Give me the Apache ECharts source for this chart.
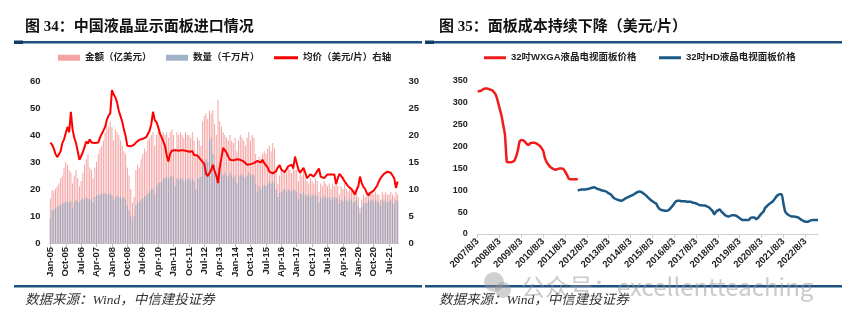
<!DOCTYPE html>
<html>
<head>
<meta charset="utf-8">
<script src="https://cdn.jsdelivr.net/npm/echarts@6/dist/echarts.min.js"></script>
<style>
html,body{margin:0;padding:0;background:#fff;}
#c{width:844px;height:323px;}
</style>
</head>
<body>
<div id="c"></div>
<script>
// ---------- Left chart: 中国液晶显示面板进口情况 (monthly Jan-05 .. Dec-21) ----------
const monthNames = ['Jan','Feb','Mar','Apr','May','Jun','Jul','Aug','Sep','Oct','Nov','Dec'];
const leftYears = [2005,2006,2007,2008,2009,2010,2011,2012,2013,2014,2015,2016,2017,2018,2019,2020,2021];
const leftCategories = [];
leftYears.forEach(y => monthNames.forEach(m => leftCategories.push(m + '-' + String(y).slice(2))));

// 金额（亿美元）
const amount = [
  16.5,19.5,19.3,20,21,22,24,25,28,30,29,27,
  26,22,25,27,24,21,23,26,29,31,33,28,
  27,24,28,30,33,35,36,38,41,44,43,45,
  43,38,42,41,40,38,36,34,33,28,25,20,
  15,17,27,29,28,31,33,35,34,38,39,40,
  41,36,40,41,42,40,41,40,41,39,41,42,
  40,35,41,40,41,40,39,41,40,40,39,41,
  38,33,39,38,36,45,47,48,46,49,48,49,
  44,40,53,45,43,41,40,39,38,40,38,37,
  39,34,38,40,39,38,36,39,41,38,40,39,
  33,30,32,31,33,34,33,35,36,34,37,35,
  28,22,25,27,26,27,26,28,27,26,28,27,
  27,23,26,25,27,24,23,22,24,23,22,24,
  23,19,22,21,23,22,21,22,20,22,21,22,
  21,18,21,20,22,20,19,21,20,19,20,21,
  17,13,16,18,17,18,19,18,19,18,19,18,
  18,16,19,18,19,18,18,19,18,17,19,18
];
// 数量（千万片）
const quantity = [
  9,12,12.5,13,13.5,14,14,14.5,15,15,15.5,15,
  15.5,13,15,16,15.5,15,16,16.5,16,17,16.5,16,
  16.5,15,17,17.5,18,18,18.5,18,18.5,18,18,18.5,
  17.5,16,17,17.5,17,17,16.5,17,16,14,12,10,
  8,10,14,15.5,15,16,16.5,17,17.5,18.5,19,20,
  20,18,21,22,22.5,23,24,24,24.5,24,24.5,25,
  24,21,24,23.5,24,24,23,24,23.5,24,23,24,
  23,20,24,24,24.5,29,30,31,30,38,39,33,
  29,25,28,27,26,25,26,25,24.5,26,25,24,
  25,22,24.5,25,25.5,24.5,24,25,26,25,25.5,25,
  22,19,21,20,21,21.5,21,22,23,22,23,22,
  20,17,18.5,19,19.5,20,19,20,19.5,19,20,19.5,
  19,16,18.5,18,19,18,17.5,18,17,18,17.5,18,
  17.5,15,17,16.5,17.5,17,16.5,17,16,17,16.5,17,
  16.5,14.5,16,15.5,17,16,15.5,16.5,16,15,15.5,16,
  14,11,13.5,15,14.5,15,16,15.5,16,15,16,15.5,
  15,13.5,16,15.5,16,15,15.5,16,15,14.5,16,15.5
];
// 均价（美元/片）右轴
const avgPrice = [
  18.6,18.2,17.5,16.5,15.9,16.2,17.0,18.5,19.2,19.0,21.5,20.5,
  24.3,21.0,19.5,18.5,17.0,15.4,15.5,16.8,17.8,18.8,18.4,19.2,
  18.6,18.8,18.5,18.4,18.6,19.5,20.2,20.8,21.5,22.8,23.6,24.0,
  28.3,27.5,27.0,26.0,24.5,23.5,22.5,21.0,19.8,18.0,17.9,17.9,
  18.0,18.2,18.6,18.9,19.1,19.0,19.3,19.4,19.6,20.2,20.8,22.0,
  24.3,22.8,22.4,21.5,20.3,19.6,18.8,18.0,16.3,15.1,16.5,17.1,
  17.3,17.2,17.0,17.1,17.4,17.2,17.0,17.1,17.3,16.9,16.9,17.0,
  16.3,16.0,16.2,15.8,15.4,15.2,14.6,12.8,12.4,12.3,13.5,14.5,
  13.3,12.5,11.1,13.9,15.8,17.6,17.2,16.7,16.0,15.4,15.5,15.3,
  15.4,15.5,15.7,15.4,15.2,15.1,14.8,14.5,14.2,14.6,14.5,14.8,
  14.8,15.2,15.4,14.9,15.4,14.8,14.5,14.0,13.2,13.0,12.9,13.0,
  13.3,14.0,14.4,13.6,13.4,13.1,13.4,14.2,14.3,14.5,13.8,16.0,
  14.8,13.6,13.0,13.5,13.9,13.0,12.0,12.3,12.7,12.4,12.3,12.8,
  13.0,13.8,12.3,12.2,12.0,12.3,12.7,12.6,12.7,12.8,12.7,10.9,
  12.0,12.8,12.4,12.0,11.4,11.0,10.5,10.3,10.0,9.9,9.0,9.8,
  10.5,12.3,11.1,10.4,10.0,9.2,8.8,9.3,9.6,9.7,9.9,10.6,
  11.4,12.0,12.3,12.8,13.0,13.2,13.3,13.0,12.7,12.0,10.2,11.4
];

// ---------- Right chart: 面板成本持续下降（美元/片） (monthly 2007/8 .. 2023/3) ----------
const rightCategories = [];
for (let i = 0; i < 188; i++) {
  const mm = 8 + i;
  const y = 2007 + Math.floor((mm - 1) / 12);
  const m = ((mm - 1) % 12) + 1;
  rightCategories.push(y + '/' + m + '/3');
}
// 32吋WXGA液晶电视面板价格 (2007/8 .. 2012/3)
const wxga = [
  326,327,328,331,333,333,332,330,329,324,318,304,288,272,250,226,
  165,164,164,165,167,176,190,211,215,214,211,206,204,208,209,209,
  208,205,202,197,190,173,164,158,153,150,148,147,149,150,150,149,
  143,136,127,125,125,125,125,125
];
// 32吋HD液晶电视面板价格 (2012/3 .. 2023/3)
const hdStart = 55;
const hd = [
  99,101,102,102,102,103,103,105,106,107,105,103,102,100,99,98,96,93,91,86,
  82,80,78,77,76,78,81,83,85,87,89,91,94,96,97,96,93,90,86,82,
  78,75,72,70,62,57,55,54,53,53,55,59,64,70,75,76,76,75,75,75,
  74,74,74,72,71,70,68,66,66,65,65,63,61,57,53,45,51,54,56,51,
  47,43,41,40,42,43,43,42,39,36,33,32,32,32,32,37,38,38,34,37,
  42,47,51,60,64,68,71,74,79,85,89,91,91,70,51,46,43,41,40,40,
  39,38,35,32,30,28,28,29,31,32,32,32,32
];
const wxgaSeries = rightCategories.map((_, i) => i < wxga.length ? wxga[i] : null);
const hdSeries = rightCategories.map((_, i) => i >= hdStart && i - hdStart < hd.length ? hd[i - hdStart] : null);

const CJK = "'Liberation Sans','Noto Sans CJK SC',sans-serif";
const TITLE_FONT = "'Liberation Serif','Noto Sans CJK SC',serif";
const DARK = '#1d5080';

const chart = echarts.init(document.getElementById('c'), null, {renderer: 'canvas'});

const axisLabelStyle = {fontSize: 9.5, fontWeight: 'bold', color: '#222', fontFamily: "'Liberation Sans',sans-serif"};
const legendText = {fontSize: 9.5, fontWeight: 'bold', color: '#222', fontFamily: CJK};

const option = {
  animation: false,
  backgroundColor: '#fff',
  title: [
    {text: '图 34：中国液晶显示面板进口情况', left: 25, top: 20, padding: 0,
     textStyle: {fontSize: 15, fontWeight: 'bold', color: '#111', fontFamily: TITLE_FONT}},
    {text: '图 35：面板成本持续下降（美元/片）', left: 439, top: 20, padding: 0,
     textStyle: {fontSize: 15, fontWeight: 'bold', color: '#111', fontFamily: TITLE_FONT}}
  ],
  legend: [
    {left: 58, top: 53, padding: 0, itemWidth: 22, itemHeight: 6, itemGap: 0, icon: 'rect',
     data: ['金额（亿美元）'], textStyle: legendText},
    {left: 166, top: 53, padding: 0, itemWidth: 22, itemHeight: 6, itemGap: 0, icon: 'rect',
     data: ['数量（千万片）'], textStyle: legendText},
    {left: 274, top: 53, padding: 0, itemWidth: 24, itemHeight: 3, itemGap: 0, icon: 'rect',
     data: ['均价（美元/片）右轴'], textStyle: legendText},
    {left: 484, top: 53, padding: 0, itemWidth: 22, itemHeight: 3, itemGap: 0, icon: 'rect',
     data: ['32吋WXGA液晶电视面板价格'], textStyle: legendText},
    {left: 659, top: 53, padding: 0, itemWidth: 22, itemHeight: 3, itemGap: 0, icon: 'rect',
     data: ['32吋HD液晶电视面板价格'], textStyle: legendText}
  ],
  grid: [
    {left: 49.5, top: 81, width: 349, height: 162},
    {left: 477.7, top: 81, width: 340.3, height: 153}
  ],
  xAxis: [
    {type: 'category', gridIndex: 0, data: leftCategories, boundaryGap: true,
     axisLine: {lineStyle: {color: '#bfbfbf'}},
     axisTick: {show: true, alignWithLabel: true, interval: 8, length: 4, lineStyle: {color: '#bfbfbf'}},
     axisLabel: Object.assign({interval: 8, rotate: 90, margin: 4}, axisLabelStyle)},
    {type: 'category', gridIndex: 1, data: rightCategories, boundaryGap: false,
     axisLine: {lineStyle: {color: '#d0d0d0'}},
     axisTick: {show: true, interval: 11, length: 4, lineStyle: {color: '#d0d0d0'}},
     axisLabel: Object.assign({interval: 11, rotate: 45, margin: 6}, axisLabelStyle)}
  ],
  yAxis: [
    {type: 'value', gridIndex: 0, position: 'left', min: 0, max: 60, interval: 10,
     axisLine: {show: false}, axisTick: {show: false}, splitLine: {show: false},
     axisLabel: Object.assign({margin: 9}, axisLabelStyle)},
    {type: 'value', gridIndex: 0, position: 'right', min: 0, max: 30, interval: 5,
     axisLine: {show: false}, axisTick: {show: false}, splitLine: {show: false},
     axisLabel: Object.assign({margin: 10}, axisLabelStyle)},
    {type: 'value', gridIndex: 1, position: 'left', min: 0, max: 350, interval: 50,
     axisLine: {show: false}, axisTick: {show: false}, splitLine: {show: false},
     axisLabel: Object.assign({margin: 10}, axisLabelStyle, {fontSize: 9})}
  ],
  series: [
    {name: '金额（亿美元）', type: 'bar', xAxisIndex: 0, yAxisIndex: 0, data: amount,
     barWidth: '52%', barGap: '-100%', itemStyle: {color: '#f4a3a3'}},
    {name: '数量（千万片）', type: 'bar', xAxisIndex: 0, yAxisIndex: 0, data: quantity,
     barWidth: '52%', barGap: '-100%', itemStyle: {color: '#8fa6c0', opacity: 0.85}},
    {name: '均价（美元/片）右轴', type: 'line', xAxisIndex: 0, yAxisIndex: 1, data: avgPrice,
     showSymbol: false, symbol: 'none', lineStyle: {color: '#ff0000', width: 2}, itemStyle: {color: '#ff0000'}},
    {name: '32吋WXGA液晶电视面板价格', type: 'line', xAxisIndex: 1, yAxisIndex: 2, data: wxgaSeries,
     showSymbol: false, symbol: 'none', connectNulls: false, smooth: 0.2,
     lineStyle: {color: '#f01c1c', width: 2.5}, itemStyle: {color: '#f01c1c'}},
    {name: '32吋HD液晶电视面板价格', type: 'line', xAxisIndex: 1, yAxisIndex: 2, data: hdSeries,
     showSymbol: false, symbol: 'none', connectNulls: false, smooth: 0.2,
     lineStyle: {color: '#1b5885', width: 2.5}, itemStyle: {color: '#1b5885'}}
  ],
  graphic: [
    {type: 'rect', shape: {x: 14, y: 41, width: 408, height: 2.5}, style: {fill: DARK}, silent: true},
    {type: 'rect', shape: {x: 14, y: 40.5, width: 9, height: 3.5}, style: {fill: '#0f3d63'}, silent: true},
    {type: 'rect', shape: {x: 425, y: 41, width: 417, height: 2.5}, style: {fill: DARK}, silent: true},
    {type: 'rect', shape: {x: 425, y: 40.5, width: 9, height: 3.5}, style: {fill: '#0f3d63'}, silent: true},
    {type: 'rect', shape: {x: 14, y: 285, width: 408, height: 2.5}, style: {fill: DARK}, silent: true},
    {type: 'rect', shape: {x: 425, y: 285, width: 417, height: 2.5}, style: {fill: DARK}, silent: true},
    {type: 'text', x: 25, y: 300, silent: true,
     style: {text: '数据来源：Wind，中信建投证券', font: "italic 13.5px 'Liberation Serif','Noto Sans CJK SC',serif",
             fill: '#333', verticalAlign: 'middle'}},
    {type: 'text', x: 439, y: 300, silent: true,
     style: {text: '数据来源：Wind，中信建投证券', font: "italic 13.5px 'Liberation Serif','Noto Sans CJK SC',serif",
             fill: '#333', verticalAlign: 'middle'}},
    {type: 'circle', shape: {cx: 494, cy: 282, r: 10}, style: {fill: 'rgba(150,150,150,0.45)'}, silent: true},
    {type: 'circle', shape: {cx: 503, cy: 290, r: 8}, style: {fill: 'rgba(150,150,150,0.45)'}, silent: true},
    {type: 'text', x: 521, y: 287, silent: true,
     style: {text: '公众号：excellentteaching', font: "24px 'Noto Sans CJK SC','Noto Sans',sans-serif",
             fill: 'rgba(150,150,150,0.5)', verticalAlign: 'middle'}}
  ]
};
chart.setOption(option);
</script>
</body>
</html>
